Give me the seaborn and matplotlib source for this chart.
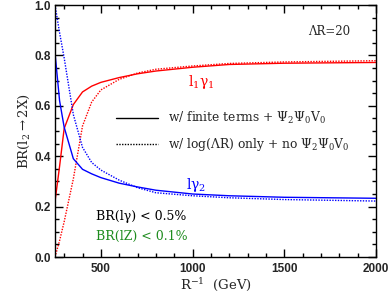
import matplotlib
matplotlib.use("Agg")
import matplotlib.pyplot as plt
import seaborn as sns
import pandas as pd
from matplotlib.lines import Line2D
from matplotlib.ticker import MultipleLocator

# ---- data ----
r_inv = [250, 275, 300, 350, 400, 450, 500, 600, 700, 800, 1000, 1200, 1500, 2000]
l1g1_full = [0.22, 0.36, 0.51, 0.605, 0.655, 0.678, 0.693, 0.712, 0.727, 0.738, 0.753, 0.764, 0.769, 0.772]
l1g1_log  = [0.0, 0.065, 0.14, 0.31, 0.52, 0.615, 0.663, 0.705, 0.73, 0.745, 0.758, 0.768, 0.774, 0.779]
lg2_full  = [0.81, 0.62, 0.515, 0.39, 0.348, 0.33, 0.315, 0.293, 0.278, 0.265, 0.25, 0.243, 0.237, 0.233]
lg2_log   = [1.0, 0.89, 0.79, 0.565, 0.435, 0.375, 0.345, 0.305, 0.275, 0.255, 0.243, 0.235, 0.228, 0.222]

sns.set_style("ticks")
plt.rcParams['font.family'] = ['DejaVu Serif']
plt.rcParams['mathtext.fontset'] = 'dejavuserif'

fig = plt.figure(figsize=(3.9, 2.95), dpi=100)
ax = fig.add_axes([55/390, 38/295, (376-55)/390, (257-5)/295])

df = pd.DataFrame({"x": r_inv, "a": l1g1_full, "b": l1g1_log, "c": lg2_full, "d": lg2_log})
sns.lineplot(data=df, x="x", y="a", ax=ax, color="#ff0000", lw=1.0)
sns.lineplot(data=df, x="x", y="b", ax=ax, color="#ff0000", lw=1.0, linestyle=(0, (1, 1)))
sns.lineplot(data=df, x="x", y="c", ax=ax, color="#0000ff", lw=1.0)
sns.lineplot(data=df, x="x", y="d", ax=ax, color="#0000ff", lw=1.0, linestyle=(0, (1, 1)))

ax.set_xlim(250, 2000)
ax.set_ylim(0, 1.0)
ax.xaxis.set_major_locator(MultipleLocator(500))
ax.xaxis.set_minor_locator(MultipleLocator(100))
ax.yaxis.set_major_locator(MultipleLocator(0.2))
ax.yaxis.set_minor_locator(MultipleLocator(0.05))
ax.tick_params(which='both', direction='in', top=True, right=True, color='black', width=1)
ax.tick_params(which='major', length=6)
ax.tick_params(which='minor', length=3)
for s in ax.spines.values():
    s.set_linewidth(1.0)
    s.set_color('black')
ax.set_xticks([500, 1000, 1500, 2000])
ax.set_xticklabels(['500', '1000', '1500', '2000'], family='Liberation Sans', weight='bold', fontsize=8.5)
ax.set_yticks([0.0, 0.2, 0.4, 0.6, 0.8, 1.0])
ax.set_yticklabels(['0.0', '0.2', '0.4', '0.6', '0.8', '1.0'], family='Liberation Sans', weight='bold', fontsize=8.5)
ax.tick_params(axis='x', pad=4)
ax.tick_params(axis='y', pad=3)

ax.set_xlabel(r"R$^{-1}$  (GeV)", fontsize=9.5, labelpad=1)
ax.set_ylabel(r"BR(l$_2$$\rightarrow$2X)", fontsize=9.5, labelpad=2)

ax.text(0.855, 0.895, r"ΛR=20", transform=ax.transAxes, fontsize=8.5, ha='center', va='center')
ax.text(0.455, 0.693, r"l$_1$γ$_1$", transform=ax.transAxes, color='#ff0000', fontsize=10, ha='center', va='center')
ax.text(0.44, 0.285, r"lγ$_2$", transform=ax.transAxes, color='#0000ff', fontsize=10, ha='center', va='center')
ax.text(0.128, 0.162, r"BR(lγ) < 0.5%", transform=ax.transAxes, color='black', fontsize=9, ha='left', va='center')
ax.text(0.128, 0.083, r"BR(lZ) < 0.1%", transform=ax.transAxes, color='#1e8c1e', fontsize=9, ha='left', va='center')

handles = [Line2D([], [], color='black', lw=1.0),
           Line2D([], [], color='black', lw=1.0, linestyle=(0, (1, 1)))]
labels = [r"w/ finite terms + $\Psi_2\Psi_0\mathrm{V}_0$",
          r"w/ log(ΛR) only + no $\Psi_2\Psi_0\mathrm{V}_0$"]
leg = ax.legend(handles, labels, frameon=False, fontsize=8.8, handlelength=3.4,
                handletextpad=0.85, labelspacing=0.8, loc='upper left',
                bbox_to_anchor=(0.19, 0.583), borderaxespad=0, borderpad=0)

fig.savefig("out.png", dpi=100)
